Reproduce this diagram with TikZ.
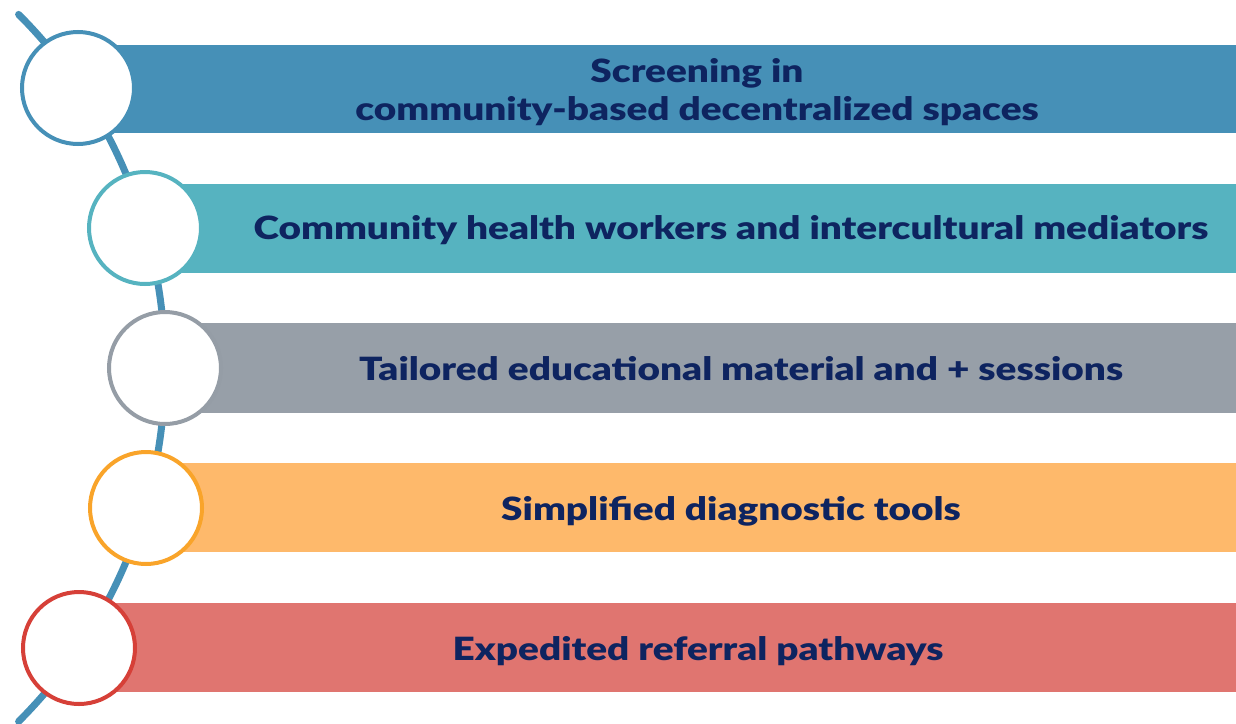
\documentclass[tikz,border=0pt]{standalone}
\usepackage{fontspec}
\setmainfont{Lato Black}[FakeStretch=1.21]
\begin{document}
\definecolor{cblue}{HTML}{4690B7}
\definecolor{cteal}{HTML}{56B3C0}
\definecolor{cgrey}{HTML}{979FA8}
\definecolor{cgreyline}{HTML}{959DA6}
\definecolor{corange}{HTML}{FEB96B}
\definecolor{corangeline}{HTML}{F9A42A}
\definecolor{cred}{HTML}{E07570}
\definecolor{credline}{HTML}{D64038}
\definecolor{cnavy}{HTML}{0E2460}
\begin{tikzpicture}[x=1pt,y=-1pt,
  spine/.style={line width=7pt,draw=cblue,line cap=round},
  bar/.style={fill=#1,draw=none},
  ring/.style={circle,draw=#1,line width=4pt,fill=white,minimum size=112pt,inner sep=0pt},
  label/.style={text=cnavy,font=\fontsize{32}{38}\selectfont,anchor=base,inner sep=0pt,align=center}]
  \useasboundingbox (0,0) rectangle (1236,723);
  % coloured bars, one per row
  \fill[bar=cblue]   (79,45)  rectangle (1236,133);
  \fill[bar=cteal]   (145,184) rectangle (1236,273);
  \fill[bar=cgrey]   (165,323) rectangle (1236,413);
  \fill[bar=corange] (146,463) rectangle (1236,552);
  \fill[bar=cred]    (79,603) rectangle (1236,692);
  % spine: an arc through the ring centres
  \coordinate (spinetop) at (18.6,14.4);
  \draw[spine] (spinetop) arc[start angle=-45,end angle=45,radius=500];
  % rings
  \node[ring=cblue]       (r1) at (78,88)  {};
  \node[ring=cteal]       (r2) at (145,228) {};
  \node[ring=cgreyline]   (r3) at (165,368) {};
  \node[ring=corangeline] (r4) at (146,508) {};
  \node[ring=credline]    (r5) at (79,648) {};
  % labels
  \node[label] (t1a) at (697,82) {Screening in};
  \node[label] (t1b) at (697,120) {community-based decentralized spaces};
  \node[label] (t2) at (731,239) {Community health workers and intercultural mediators};
  \node[label] (t3) at (741,380) {Tailored educational material and + sessions};
  \node[label] (t4) at (731,520) {Simplified diagnostic tools};
  \node[label] (t5) at (698,660) {Expedited referral pathways};
\end{tikzpicture}
\end{document}
